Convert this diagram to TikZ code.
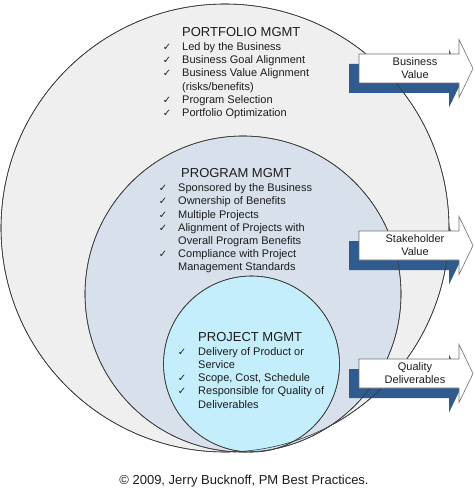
\documentclass[tikz,border=0pt]{standalone}
\usepackage{fontspec}
\setmainfont{Liberation Sans}
\newfontfamily\symfont{DejaVu Sans}
\definecolor{outerfill}{HTML}{EFEFEF}
\definecolor{progfill}{HTML}{D7E0EB}
\definecolor{projfill}{HTML}{C4EEFB}
\definecolor{shadowblue}{HTML}{2F5B8F}
\definecolor{circline}{HTML}{3A3A3A}
\definecolor{arrline}{HTML}{707070}
\definecolor{txt}{HTML}{1C1C1C}
\begin{document}
\begin{tikzpicture}[x=1pt,y=-1pt,
  ring/.style={circle,inner sep=0pt,draw=circline,line width=0.6pt},
  ringline/.style={draw=circline,line width=0.6pt},
  title/.style={anchor=base west,text=txt,font=\fontsize{13}{15}\selectfont,inner sep=0pt},
  item/.style={anchor=base west,text=txt,font=\fontsize{11}{13}\selectfont,inner sep=0pt},
  tick/.style={anchor=base,text=txt,font=\symfont\fontsize{10}{10}\selectfont,inner sep=0pt},
  lab/.style={align=center,text=txt,font=\fontsize{11}{13}\selectfont,inner sep=0pt},
  valarrow/.pic={
    \path[pic actions] (0,-14.5) -- (100,-14.5) -- (100,-29) -- (114,0) -- (100,29) -- (100,14.5) -- (0,14.5) -- cycle;
  }]
\useasboundingbox (0,0) rectangle (474,489);
\fill[white] (0,0) rectangle (474,489);

% circles
\node[ring,fill=outerfill,minimum size=448pt] (portfolio) at (225,228) {};
\node[ring,fill=progfill,minimum size=316pt] (program) at (243,294) {};
\node[ring,fill=projfill,minimum size=176pt] (project) at (251.5,364) {};

% arrow shadows
\foreach \yc in {68.5,245.5,373.5}
  \pic[fill=shadowblue] at (349,\yc+10) {valarrow};

% circle outlines on top of shadows
\draw[ringline] (portfolio.center) circle[radius=224];
\draw[ringline] (program.center) circle[radius=158];
\draw[ringline] (project.center) circle[radius=88];

% white arrows
\foreach \yc in {68.5,245.5,373.5}
  \pic[fill=white,draw=arrline,line width=0.6pt] at (359,\yc) {valarrow};

\node[lab] (bv) at (415,68.5) {Business\\Value};
\node[lab] (sv) at (415,245.5) {Stakeholder\\Value};
\node[lab] (qd) at (415,373.5) {Quality\\Deliverables};

% portfolio text
\node[title] (pft) at (182,36.8) {PORTFOLIO MGMT};
\node[item] (pf1) at (182,50.3) {Led by the Business};
\node[item] (pf2) at (182,63.6) {Business Goal Alignment};
\node[item] (pf3) at (182,76.9) {Business Value Alignment};
\node[item] (pf4) at (182,90.2) {(risks/benefits)};
\node[item] (pf5) at (182,103.5) {Program Selection};
\node[item] (pf6) at (182,116.8) {Portfolio Optimization};
\foreach \n/\yy in {a/50.3,b/63.6,c/76.9,d/103.5,e/116.8}
  \node[tick] (pfc\n) at (167,\yy) {✓};

% program text
\node[title] (pgt) at (181,177.7) {PROGRAM MGMT};
\node[item] (pg1) at (178,191.7) {Sponsored by the Business};
\node[item] (pg2) at (178,204.9) {Ownership of Benefits};
\node[item] (pg3) at (178,218.1) {Multiple Projects};
\node[item] (pg4) at (178,231.3) {Alignment of Projects with};
\node[item] (pg5) at (178,244.5) {Overall Program Benefits};
\node[item] (pg6) at (178,257.7) {Compliance with Project};
\node[item] (pg7) at (178,270.9) {Management Standards};
\foreach \n/\yy in {a/191.7,b/204.9,c/218.1,d/231.3,e/257.7}
  \node[tick] (pgc\n) at (163,\yy) {✓};

% project text
\node[title] (pjt) at (198,341.7) {PROJECT MGMT};
\node[item] (pj1) at (198,355.3) {Delivery of Product or};
\node[item] (pj2) at (198,368.4) {Service};
\node[item] (pj3) at (198,381.6) {Scope, Cost, Schedule};
\node[item] (pj4) at (198,394.8) {Responsible for Quality of};
\node[item] (pj5) at (198,408) {Deliverables};
\foreach \n/\yy in {a/355.3,b/381.6,c/394.8}
  \node[tick] (pjc\n) at (182,\yy) {✓};

% copyright
\node[anchor=base,text=txt,font=\fontsize{13}{15}\selectfont,inner sep=0pt] (copy) at (244,484.5) {© 2009, Jerry Bucknoff, PM Best Practices.};
\end{tikzpicture}
\end{document}
